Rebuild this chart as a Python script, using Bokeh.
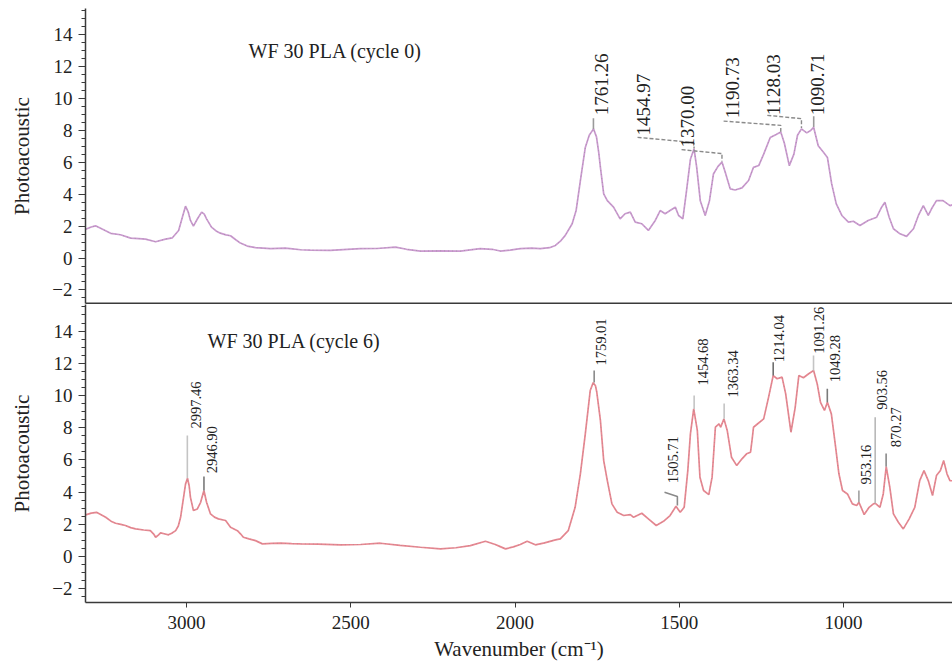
import numpy as np
from bokeh.plotting import figure
from bokeh.models import Range1d, FixedTicker, ColumnDataSource
from bokeh.layouts import column
from bokeh.embed import file_html
from bokeh.resources import INLINE
from bokeh.core.properties import value

FONT = "Liberation Serif"

# ---------------- data ----------------
top_wn = [3307, 3290, 3277, 3260, 3231, 3201, 3170, 3145, 3125, 3094, 3064, 3043, 3024, 3012,
          3003, 2995, 2988, 2979, 2967, 2954, 2946, 2939, 2924, 2910, 2897, 2880, 2866, 2850,
          2836, 2815, 2790, 2744, 2700, 2684, 2653, 2623, 2562, 2510, 2471, 2420, 2364, 2330,
          2288, 2230, 2166, 2106, 2070, 2045, 2015, 1984, 1950, 1923, 1895, 1877, 1860, 1847,
          1826, 1814, 1801, 1786, 1774, 1761, 1752, 1745, 1740, 1730, 1719, 1700, 1680, 1665,
          1649, 1634, 1614, 1594, 1573, 1558, 1543, 1528, 1512, 1502, 1489, 1478, 1466, 1455,
          1447, 1436, 1421, 1408, 1396, 1382, 1370, 1360, 1345, 1330, 1309, 1289, 1274, 1258,
          1243, 1223, 1205, 1191, 1180, 1165, 1151, 1140, 1128, 1112, 1100, 1091, 1077, 1061,
          1049, 1036, 1022, 1005, 985, 970, 950, 925, 899, 884, 874, 861, 848, 828, 808, 787,
          772, 757, 742, 732, 717, 697, 676, 666]
top_val = [1.81, 1.95, 2.02, 1.85, 1.55, 1.46, 1.25, 1.22, 1.19, 1.02, 1.19, 1.27, 1.73, 2.6,
           3.25, 2.9, 2.36, 2.0, 2.45, 2.88, 2.75, 2.46, 1.94, 1.7, 1.56, 1.45, 1.40, 1.15,
           0.94, 0.75, 0.65, 0.59, 0.62, 0.59, 0.52, 0.5, 0.48, 0.55, 0.59, 0.6, 0.69, 0.55,
           0.44, 0.45, 0.44, 0.59, 0.55, 0.44, 0.5, 0.59, 0.62, 0.59, 0.65, 0.79, 1.1, 1.42,
           2.15, 2.98, 4.86, 6.94, 7.7, 8.1, 7.6, 6.6, 5.69, 4.02, 3.6, 3.19, 2.46, 2.78,
           2.88, 2.25, 2.15, 1.73, 2.36, 2.98, 2.78, 2.98, 3.19, 2.67, 2.46, 4.2, 6.2, 6.86,
           5.7, 3.6, 2.67, 3.6, 5.27, 5.75, 6.02, 5.38, 4.34, 4.27, 4.4, 4.86, 5.69, 5.8,
           6.52, 7.56, 7.75, 7.9, 7.2, 5.8, 6.52, 7.7, 8.1, 7.85, 8.0, 8.2, 7.04, 6.63,
           6.31, 4.65, 3.4, 2.67, 2.25, 2.31, 2.04, 2.36, 2.56, 3.19, 3.5, 2.56, 1.84, 1.52,
           1.36, 1.84, 2.67, 3.29, 2.67, 3.09, 3.6, 3.6, 3.29, 3.35]

bot_wn = [3307, 3290, 3274, 3260, 3246, 3230, 3216, 3200, 3186, 3170, 3155, 3130, 3110, 3100,
          3094, 3085, 3079, 3065, 3055, 3045, 3033, 3025, 3018, 3009, 3003, 2997, 2992, 2988,
          2979, 2967, 2957, 2947, 2939, 2927, 2915, 2903, 2881, 2866, 2845, 2835, 2827, 2810,
          2790, 2769, 2740, 2714, 2680, 2653, 2600, 2531, 2470, 2410, 2350, 2288, 2227, 2180,
          2136, 2090, 2060, 2045, 2029, 2005, 1984, 1963, 1938, 1910, 1877, 1862, 1838, 1817,
          1801, 1786, 1771, 1762, 1755, 1751, 1740, 1730, 1719, 1705, 1689, 1669, 1649, 1639,
          1614, 1594, 1570, 1548, 1528, 1510, 1497, 1485, 1474, 1466, 1456, 1445, 1437, 1426,
          1410, 1400, 1390, 1379, 1374, 1364, 1354, 1341, 1325, 1309, 1295, 1283, 1278, 1274,
          1264, 1243, 1228, 1214, 1202, 1187, 1176, 1160, 1147, 1136, 1122, 1106, 1091, 1080,
          1070, 1058, 1049, 1037, 1024, 1014, 1003, 988, 973, 960, 953, 937, 922, 909, 903,
          889, 879, 870, 859, 848, 833, 818, 800, 783, 768, 755, 742, 729, 717, 705, 695,
          685, 676, 666]
bot_val = [2.59, 2.7, 2.75, 2.6, 2.44, 2.2, 2.07, 2.0, 1.93, 1.8, 1.72, 1.65, 1.61, 1.4,
           1.2, 1.35, 1.47, 1.4, 1.35, 1.45, 1.61, 1.9, 2.44, 3.68, 4.5, 4.86, 4.4, 3.68,
           2.86, 2.96, 3.37, 4.1, 3.37, 2.65, 2.45, 2.34, 2.24, 1.82, 1.61, 1.4, 1.2, 1.1,
           0.99, 0.79, 0.82, 0.83, 0.8, 0.79, 0.78, 0.73, 0.75, 0.83, 0.7, 0.58, 0.48, 0.55,
           0.68, 0.95, 0.75, 0.62, 0.48, 0.6, 0.75, 0.95, 0.73, 0.85, 1.04, 1.1, 1.61, 3.06,
           5.14, 7.62, 10.31, 10.8, 10.6, 10.2, 8.45, 5.96, 4.72, 3.27, 2.75, 2.55, 2.61, 2.44,
           2.69, 2.34, 1.93, 2.19, 2.55, 3.12, 2.75, 3.06, 5.34, 7.62, 9.17, 7.83, 4.93, 4.1,
           3.85, 4.93, 8.03, 8.24, 8.03, 8.55, 7.83, 6.17, 5.65, 6.07, 6.38, 6.48, 7.3, 8.03,
           8.2, 8.55, 9.9, 11.24, 11.04, 11.14, 10.1, 7.72, 9.27, 11.24, 11.1, 11.35, 11.55, 10.72,
           9.58, 9.07, 9.58, 8.86, 6.79, 5.14, 4.1, 3.89, 3.27, 3.17, 3.37, 2.61, 3.06, 3.27, 3.31,
           3.06, 3.89, 5.59, 4.3, 2.65, 2.13, 1.72, 2.34, 3.06, 4.72, 5.34, 4.72, 3.79, 5.03, 5.34,
           5.96, 5.14, 4.72, 4.7]

# peak labels (cycle 0)
top_peak_text = ["1761.26", "1454.97", "1370.00", "1190.73", "1128.03", "1090.71"]
top_label_x = [1737.6, 1609.7, 1475.8, 1338.8, 1213.0, 1079.0]
top_label_y = [8.95, 7.69, 6.94, 8.76, 8.95, 8.95]
top_solid_xs = [[1761.26, 1761.26], [1090.71, 1090.71]]
top_solid_ys = [[8.10, 8.76], [8.22, 8.89]]
top_dash_xs = [[1627, 1496, 1455, 1455], [1493, 1374, 1370, 1370], [1365, 1191, 1191], [1232, 1128, 1128]]
top_dash_ys = [[7.57, 7.32, 7.20, 6.88], [6.80, 6.56, 6.56, 6.05], [8.59, 8.32, 7.92], [8.95, 8.74, 8.15]]

# peak labels (cycle 6)
bot_peak_text = ["2997.46", "2946.90", "1759.01", "1505.71", "1454.68", "1363.34", "1214.04",
                 "1091.26", "1049.28", "953.16", "903.56", "870.27"]
bot_label_x = [2972.6, 2921.8, 1737.6, 1518.4, 1427.1, 1337.9, 1197.0, 1075.2, 1024.4, 930.0, 884.3, 838.7]
bot_label_y = [7.95, 5.17, 11.86, 4.55, 10.62, 9.88, 12.07, 12.59, 10.83, 4.47, 9.11, 6.79]
bot_tick_xs = [[2997.46, 2997.46], [2946.90, 2946.90], [1759.01, 1759.01], [1544.9, 1505.71, 1505.71],
               [1454.68, 1454.68], [1363.34, 1363.34], [1214.04, 1214.04], [1091.26, 1091.26],
               [1049.28, 1049.28], [953.16, 953.16], [903.56, 903.56], [870.27, 870.27]]
bot_tick_ys = [[4.86, 7.52], [4.10, 4.97], [10.80, 11.55], [3.99, 3.73, 3.17], [9.17, 10.0],
               [8.55, 9.5], [11.24, 12.07], [11.55, 12.48], [9.58, 10.42], [3.37, 4.1],
               [3.31, 8.65], [5.59, 6.4]]
bot_tick_colors = ["#c4c4c4", "#7a7a7a", "#8a8a8a", "#8a8a8a", "#c4c4c4", "#c4c4c4", "#6e6e6e",
                   "#c4c4c4", "#7a7a7a", "#a0a0a0", "#b8b8b8", "#8a8a8a"]

panel_titles = ["WF 30 PLA (cycle 0)", "WF 30 PLA (cycle 6)"]
title_x = [2811, 2936]
title_y = [13.0, 13.37]

y_ticks = [-2, 0, 2, 4, 6, 8, 10, 12, 14]
y_minor = [v * 0.5 for v in range(-5, 32)]
x_ticks = [1000, 1500, 2000, 2500, 3000]

X0, X1 = 3307.5, 668.2
Y0, Y1 = -2.85, 15.65
AX = "#3a3a3a"


def style_y(p):
    ax = p.yaxis[0]
    ax.ticker = FixedTicker(ticks=y_ticks, minor_ticks=y_minor)
    ax.major_label_overrides = {-2: "\u22122"}
    ax.axis_label = "Photoacoustic"
    ax.axis_label_text_font = FONT
    ax.axis_label_text_font_style = "normal"
    ax.axis_label_text_font_size = "21px"
    ax.axis_label_text_color = "#222222"
    ax.axis_label_standoff = 15
    ax.major_label_text_font = FONT
    ax.major_label_text_font_size = "19px"
    ax.major_label_text_color = "#222222"
    ax.major_label_standoff = 6
    ax.major_tick_out = 7
    ax.major_tick_in = 0
    ax.minor_tick_out = 4
    ax.minor_tick_in = 0
    ax.axis_line_color = AX
    ax.major_tick_line_color = AX
    ax.minor_tick_line_color = AX
    ax.axis_line_width = 1.5


def make_fig(height, top, bottom):
    p = figure(width=952, height=height, x_range=Range1d(X0, X1), y_range=Range1d(Y0, Y1),
               output_backend="svg", toolbar_location=None,
               min_border_left=85, min_border_right=0, min_border_top=top, min_border_bottom=bottom)
    p.outline_line_color = None
    p.grid.visible = False
    p.background_fill_color = "white"
    p.border_fill_color = "white"
    style_y(p)
    return p


# ---------------- top panel ----------------
p1 = make_fig(304, 8, 1)
xa = p1.xaxis[0]
xa.ticker = FixedTicker(ticks=[], minor_ticks=[])
xa.major_label_text_font_size = "0px"
xa.major_label_standoff = 0
xa.major_tick_out = 0
xa.major_tick_in = 0
xa.minor_tick_out = 0
xa.minor_tick_in = 0
xa.axis_line_color = AX
xa.axis_line_width = 2

p1.line(top_wn, top_val, line_color="#cb9ad0", line_width=1.7)
p1.line(top_wn, top_val, line_color="#8f8f8f", line_width=1.0, line_dash="1 3", line_alpha=0.55)
p1.multi_line(top_solid_xs, top_solid_ys, line_color="#9a9a9a", line_width=1.6)
p1.multi_line(top_dash_xs, top_dash_ys, line_color="#8a8a8a", line_width=1.4, line_dash="4 2")
src1 = ColumnDataSource(dict(x=top_label_x, y=top_label_y, t=top_peak_text))
p1.text(x="x", y="y", text="t", source=src1, angle=np.pi / 2, text_align="left",
        text_baseline="middle", text_font=value(FONT), text_font_size="19px", text_color="#222222")
p1.text(x=[title_x[0]], y=[title_y[0]], text=[panel_titles[0]], text_align="left",
        text_baseline="middle", text_font=value(FONT), text_font_size="20px", text_color="#222222")

# ---------------- bottom panel ----------------
p2 = make_fig(365, 0, 67)
xb = p2.xaxis[0]
xb.ticker = FixedTicker(ticks=x_ticks, minor_ticks=[])
xb.axis_label = "Wavenumber (cm\u207b\u00b9)"
xb.axis_label_text_font = FONT
xb.axis_label_text_font_style = "normal"
xb.axis_label_text_font_size = "21px"
xb.axis_label_text_color = "#222222"
xb.axis_label_standoff = 5
xb.major_label_text_font = FONT
xb.major_label_text_font_size = "19px"
xb.major_label_text_color = "#222222"
xb.major_label_standoff = 8
xb.major_tick_out = 5
xb.major_tick_in = 0
xb.minor_tick_out = 0
xb.minor_tick_in = 0
xb.axis_line_color = AX
xb.major_tick_line_color = AX
xb.axis_line_width = 1.5

p2.line(bot_wn, bot_val, line_color="#e98791", line_width=1.7)
p2.line(bot_wn, bot_val, line_color="#8f8f8f", line_width=1.0, line_dash="1 3", line_alpha=0.45)
src_t = ColumnDataSource(dict(xs=bot_tick_xs, ys=bot_tick_ys, c=bot_tick_colors))
p2.multi_line(xs="xs", ys="ys", line_color="c", source=src_t, line_width=1.6)
src2 = ColumnDataSource(dict(x=bot_label_x, y=bot_label_y, t=bot_peak_text))
p2.text(x="x", y="y", text="t", source=src2, angle=np.pi / 2, text_align="left",
        text_baseline="middle", text_font=value(FONT), text_font_size="14.5px", text_color="#222222")
p2.text(x=[title_x[1]], y=[title_y[1]], text=[panel_titles[1]], text_align="left",
        text_baseline="middle", text_font=value(FONT), text_font_size="20px", text_color="#222222")

layout = column(p1, p2, spacing=0)
open("out.html", "w").write(file_html(layout, INLINE))
